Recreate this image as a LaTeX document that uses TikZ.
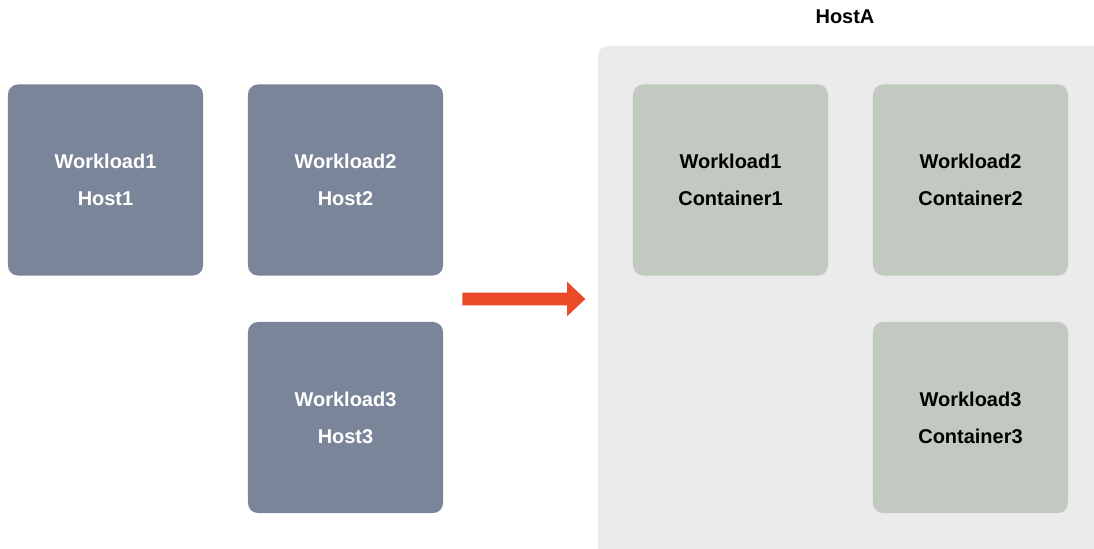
\documentclass[tikz,border=0pt]{standalone}
\usepackage{fontspec}
\setmainfont{Liberation Sans}
\usepackage{tikz}
\usetikzlibrary{shapes}
\usetikzlibrary{shapes.arrows}

\definecolor{hostgray}{HTML}{7B8599}
\definecolor{containergreen}{HTML}{C2C9C0}
\definecolor{hostbg}{HTML}{EBEBEB}
\definecolor{arroworange}{HTML}{EA4A27}

\begin{document}
\begin{tikzpicture}[x=0.025cm,y=-0.025cm,
hostnode/.style={rectangle, fill=hostgray, text=white, rounded corners=0.25cm, minimum width=4.875cm, minimum height=4.775cm, align=center, font=\fontsize{14.2}{26.3}\selectfont\bfseries},
containernode/.style={rectangle, fill=containergreen, text=black, rounded corners=0.25cm, minimum width=4.875cm, minimum height=4.775cm, align=center, font=\fontsize{14.2}{26.3}\selectfont\bfseries},
fat arrow/.style={single arrow, fill=arroworange, inner sep=0.15cm, minimum height=3.075cm, minimum width=0.85cm, single arrow head extend=0.275cm, single arrow tip angle=87}
]
\useasboundingbox (0,0) rectangle (1094,548);

%Background of HostA
\fill[hostbg, rounded corners=0.25cm] (598,46) rectangle (1110,570);
\node[font=\fontsize{14.2}{17}\selectfont\bfseries] at (845,17) (HOSTA) {HostA};

%Nodes
\node[hostnode] at (105.5,180) (HOST-1) {Workload1\\Host1};
\node[hostnode] at (345.5,180) (HOST-2) {Workload2\\Host2};
\node[hostnode] at (345.5,417.5) (HOST-3) {Workload3\\Host3};

\node at (520.5,299) (MOVE) [fat arrow]{};

\node[containernode] at (730.5,180) (CONTAINER-1) {Workload1\\Container1};
\node[containernode] at (970.5,180) (CONTAINER-2) {Workload2\\Container2};
\node[containernode] at (970.5,417.5) (CONTAINER-3) {Workload3\\Container3};
\end{tikzpicture}
\end{document}
